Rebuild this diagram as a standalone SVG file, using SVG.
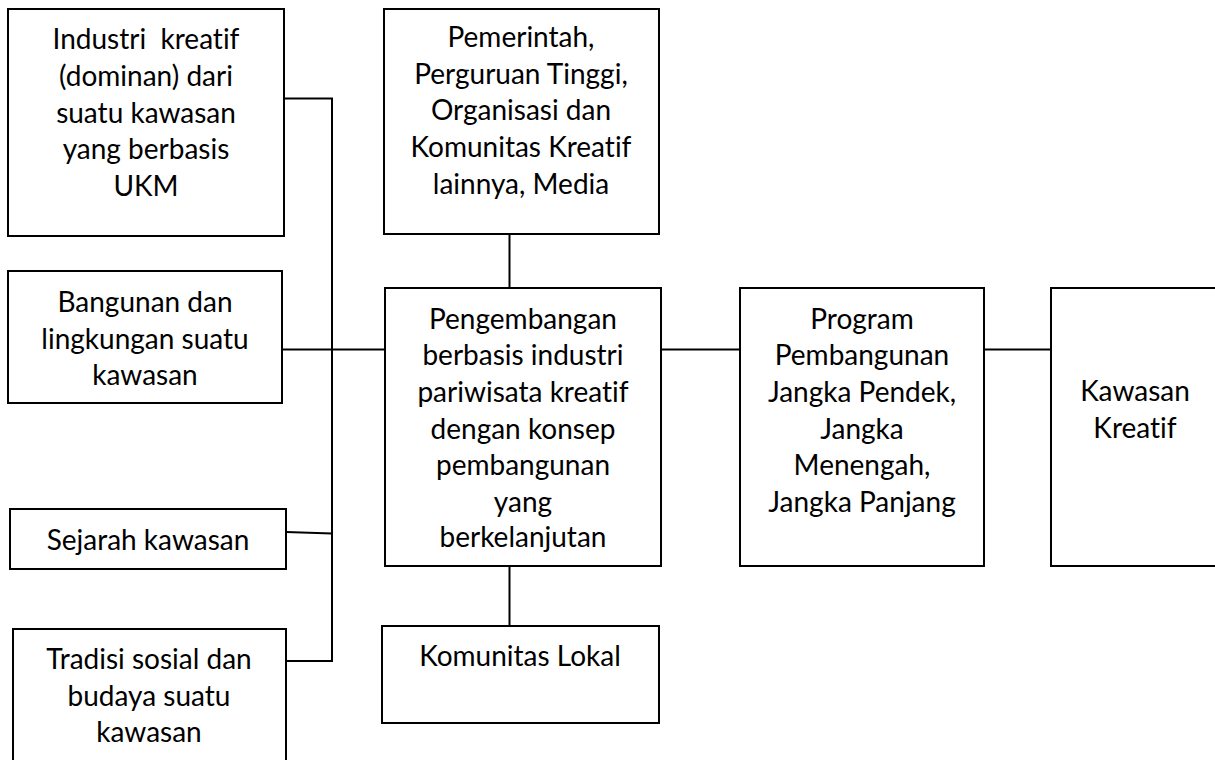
<svg xmlns="http://www.w3.org/2000/svg" width="1215" height="760" viewBox="0 0 1215 760">
<style>
.box{fill:#fff;stroke:#000;stroke-width:2}
.ln{fill:none;stroke:#000;stroke-width:2}
text{font-family:Lato,"Liberation Sans",sans-serif;font-size:28px;fill:#000;text-anchor:middle;font-variant-ligatures:none;font-feature-settings:"liga" 0,"clig" 0}
</style>
<rect width="1215" height="760" fill="#fff"/>
<g id="connectors">
<polyline class="ln" points="284,98.5 332,98.5 332,661 286,661"/>
<line class="ln" x1="282" y1="349.5" x2="385" y2="349.5"/>
<line class="ln" x1="286" y1="532" x2="332" y2="533.5"/>
<line class="ln" x1="509.5" y1="234" x2="509.5" y2="288"/>
<line class="ln" x1="509.5" y1="566" x2="509.5" y2="626"/>
<line class="ln" x1="661" y1="349.5" x2="740" y2="349.5"/>
<line class="ln" x1="984" y1="349.5" x2="1051" y2="349.5"/>
</g>
<g id="n-industri">
<rect class="box" x="8" y="9" width="276" height="227"/>
<text x="146" y="49" xml:space="preserve">Industri  kreatif</text>
<text x="146" y="86">(dominan) dari</text>
<text x="146" y="122.5">suatu kawasan</text>
<text x="146" y="159">yang berbasis</text>
<text x="146" y="195.5">UKM</text>
</g>
<g id="n-bangunan">
<rect class="box" x="8" y="271" width="274" height="132"/>
<text x="145" y="311.5">Bangunan dan</text>
<text x="145" y="348.5">lingkungan suatu</text>
<text x="145" y="384.5">kawasan</text>
</g>
<g id="n-sejarah">
<rect class="box" x="10" y="509" width="276" height="60"/>
<text x="148" y="550">Sejarah kawasan</text>
</g>
<g id="n-tradisi">
<rect class="box" x="13" y="629" width="273" height="150"/>
<text x="149" y="668.5">Tradisi sosial dan</text>
<text x="149" y="705.5">budaya suatu</text>
<text x="149" y="742">kawasan</text>
</g>
<g id="n-pemerintah">
<rect class="box" x="384" y="9" width="275" height="225"/>
<text x="521" y="46.5">Pemerintah,</text>
<text x="521" y="83.5">Perguruan Tinggi,</text>
<text x="521" y="120">Organisasi dan</text>
<text x="521" y="156.5">Komunitas Kreatif</text>
<text x="521" y="193.5">lainnya, Media</text>
</g>
<g id="n-pengembangan">
<rect class="box" x="385" y="288" width="276" height="278"/>
<text x="523" y="328.5">Pengembangan</text>
<text x="523" y="365">berbasis industri</text>
<text x="523" y="401.5">pariwisata kreatif</text>
<text x="523" y="438.5">dengan konsep</text>
<text x="523" y="475">pembangunan</text>
<text x="523" y="511.5">yang</text>
<text x="523" y="547">berkelanjutan</text>
</g>
<g id="n-komunitas">
<rect class="box" x="382" y="626" width="277" height="97"/>
<text x="520" y="665.5">Komunitas Lokal</text>
</g>
<g id="n-program">
<rect class="box" x="740" y="288" width="244" height="278"/>
<text x="862" y="328.5">Program</text>
<text x="862" y="365">Pembangunan</text>
<text x="862" y="401.5">Jangka Pendek,</text>
<text x="862" y="438.5">Jangka</text>
<text x="862" y="475">Menengah,</text>
<text x="862" y="511.5">Jangka Panjang</text>
</g>
<g id="n-kawasan">
<rect class="box" x="1051" y="288" width="180" height="278"/>
<text x="1135" y="401">Kawasan</text>
<text x="1135" y="437.5">Kreatif</text>
</g>
</svg>
